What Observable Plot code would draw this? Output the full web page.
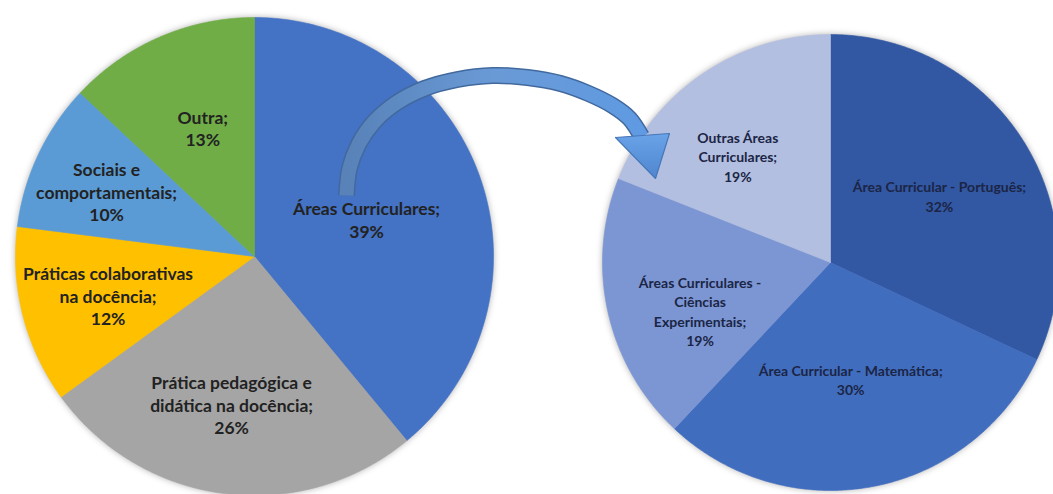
<!DOCTYPE html>
<html><head><meta charset="utf-8">
<script src="https://cdn.jsdelivr.net/npm/d3@7"></script>
<script src="https://cdn.jsdelivr.net/npm/@observablehq/plot@0.6"></script>
<style>body{margin:0;background:#fff;}</style>
</head><body><div id="chart"></div>
<script>
// ---- Data: left pie (main areas) ----
const leftCategories = ["Áreas Curriculares", "Prática pedagógica e didática na docência", "Práticas colaborativas na docência", "Sociais e comportamentais", "Outra"];
const leftValues = [39, 26, 12, 10, 13];
const leftLabels = ["Áreas Curriculares;\n39%", "Prática pedagógica e\ndidática na docência;\n26%", "Práticas colaborativas\nna docência;\n12%", "Sociais e\ncomportamentais;\n10%", "Outra;\n13%"];
const leftColors = ["#4472C4", "#A5A5A5", "#FFC000", "#5B9BD5", "#70AD47"];

// ---- Data: right pie (breakdown of Áreas Curriculares) ----
const rightCategories = ["Área Curricular - Português", "Área Curricular - Matemática", "Áreas Curriculares - Ciências Experimentais", "Outras Áreas Curriculares"];
const rightValues = [32, 30, 19, 19];
const rightLabels = ["Área Curricular - Português;\n32%", "Área Curricular - Matemática;\n30%", "Áreas Curriculares -\nCiências\nExperimentais;\n19%", "Outras Áreas\nCurriculares;\n19%"];
const rightColors = ["#3257A3", "#416DBF", "#7C96D3", "#B3BFE0"];

// ---- Layout (pixel space) ----
const W = 1053, H = 494;
const leftPie = {cx: 254, cy: 256, r: 239, frac: [0.494, 0.627, 0.634, 0.676, 0.58], nudge: [1.5, 1.6, -0.5, -1.5, 1.5]};
const rightPie = {cx: 830, cy: 262, r: 228, frac: [0.56, 0.52, 0.61, 0.62], nudge: [1, 1, -7.7, -6.8]};
const arrowPath = [[346,195],[349,168],[358,144],[373,122],[395,103],[424,88],[457,79],[492,75],[527,77],[560,83],[588,93],[612,105],[629,118],[641,136]];
const arrowHeadPoly = [[615,137],[669,133],[655,178]];

function slicePoints(cats, vals, colors, p) {
  const total = d3.sum(vals);
  let a = 0; const pts = [];
  cats.forEach((c, i) => {
    const a0 = a, a1 = a + vals[i] / total * 360; a = a1;
    const n = Math.max(2, Math.ceil((a1 - a0) / 0.5));
    pts.push({c, color: colors[i], x: p.cx, y: p.cy});
    for (let k = 0; k <= n; k++) {
      const t = (a0 + (a1 - a0) * k / n) * Math.PI / 180;
      pts.push({c, color: colors[i], x: p.cx + p.r * Math.sin(t), y: p.cy - p.r * Math.cos(t)});
    }
    pts.push({c, color: colors[i], x: p.cx, y: p.cy});
  });
  return pts;
}
function labelPoints(vals, labels, p) {
  const total = d3.sum(vals);
  let a = 0;
  return vals.map((v, i) => {
    const a0 = a, a1 = a + v / total * 360; a = a1;
    const t = ((a0 + a1) / 2 + p.nudge[i]) * Math.PI / 180;
    const rr = p.r * p.frac[i];
    return {text: labels[i], x: p.cx + rr * Math.sin(t), y: p.cy - rr * Math.cos(t)};
  });
}

const leftSlices = slicePoints(leftCategories, leftValues, leftColors, leftPie);
const rightSlices = slicePoints(rightCategories, rightValues, rightColors, rightPie);
const leftText = labelPoints(leftValues, leftLabels, leftPie);
const rightText = labelPoints(rightValues, rightLabels, rightPie);
const arrowData = arrowPath.map(([x, y]) => ({x, y}));
const headData = [...arrowHeadPoly, arrowHeadPoly[0]].map(([x, y]) => ({x, y}));

const chart = Plot.plot({
  width: W, height: H,
  margin: 0,
  x: {domain: [0, W], axis: null},
  y: {domain: [0, H], reverse: true, axis: null},
  color: {type: "identity"},
  marks: [
    Plot.line(leftSlices, {x: "x", y: "y", z: "c", fill: "color", stroke: "color", strokeWidth: 0.6}),
    Plot.line(rightSlices, {x: "x", y: "y", z: "c", fill: "color", stroke: "color", strokeWidth: 0.6}),
    Plot.line(arrowData, {x: "x", y: "y", curve: "catmull-rom", stroke: "#41699E", strokeWidth: 17, strokeLinecap: "butt"}),
    Plot.line(arrowData, {x: "x", y: "y", curve: "catmull-rom", stroke: "url(#arrowGrad)", strokeWidth: 14, strokeLinecap: "butt"}),
    Plot.line(headData, {x: "x", y: "y", fill: "url(#headGrad)", stroke: "#4677B8", strokeWidth: 1.2, strokeLinejoin: "round"}),
    Plot.text(leftText, {x: "x", y: "y", text: "text", fontFamily: "Lato", fontWeight: "bold", fontSize: 17.5, lineHeight: 1.29, fill: "#222"}),
    Plot.text(rightText, {x: "x", y: "y", text: "text", fontFamily: "Lato", fontWeight: "bold", fontSize: 14, lineHeight: 1.4, fill: "#1B2545"})
  ]
});

const svg = d3.select(chart);
const defs = svg.insert("defs", ":first-child");
const g = defs.append("linearGradient").attr("id", "arrowGrad").attr("x1", "0%").attr("x2", "100%").attr("y1", "0%").attr("y2", "0%");
g.append("stop").attr("offset", "0%").attr("stop-color", "#5882B8");
g.append("stop").attr("offset", "50%").attr("stop-color", "#6A9AD6");
g.append("stop").attr("offset", "100%").attr("stop-color", "#5F9AE2");
const hg = defs.append("linearGradient").attr("id", "headGrad").attr("x1", "0%").attr("x2", "0%").attr("y1", "0%").attr("y2", "100%");
hg.append("stop").attr("offset", "0%").attr("stop-color", "#6AA3E8");
hg.append("stop").attr("offset", "100%").attr("stop-color", "#4F86CF");
const lines = svg.selectAll('g[aria-label="line"]').nodes();
[lines[0], lines[1]].forEach(n => n && (n.style.filter = "drop-shadow(0 0 3px rgba(0,0,0,0.3))"));
document.getElementById("chart").appendChild(chart);
</script>
</body></html>
